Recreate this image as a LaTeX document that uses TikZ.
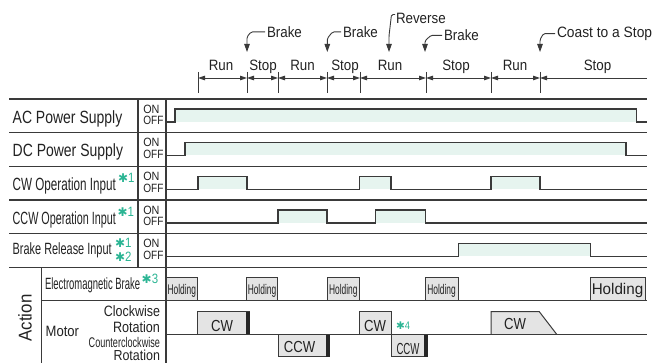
\documentclass[tikz,border=0pt]{standalone}
\usepackage{graphicx}
\usepackage{fontspec}
\setmainfont{Liberation Sans}
\newfontfamily\dejavufont{DejaVu Sans}
\usetikzlibrary{arrows.meta}
\definecolor{sig}{HTML}{E6F4EF}
\definecolor{ln}{HTML}{3A3A3A}
\definecolor{tc}{HTML}{222222}
\definecolor{boxfill}{HTML}{E4E4E4}
\definecolor{markc}{HTML}{2CB594}
\newcommand\tx[3]{\scalebox{#2}[1]{\fontsize{#1}{#1}\selectfont #3}}
\newcommand\mk[3]{{\color{markc}{\dejavufont\fontsize{#1}{#1}\selectfont ✱}\scalebox{0.85}[1]{\fontsize{#2}{#2}\selectfont #3}}}
\begin{document}
\begin{tikzpicture}[x=1pt,y=-1pt,
  txt/.style={inner sep=0pt,outer sep=0pt,text=tc},
  grid/.style={draw=ln,line width=1.1pt},
  sigl/.style={draw=ln,line width=1.1pt},
  tick/.style={draw=ln,line width=0.9pt},
  dim/.style={draw=ln,line width=0.9pt,{Triangle[length=7pt,width=4.5pt]}-{Triangle[length=7pt,width=4.5pt]}},
  dimr/.style={draw=ln,line width=0.9pt,{Triangle[length=7pt,width=4.5pt]}-},
  callout/.style={draw=ln,line width=0.9pt,rounded corners=1.5pt,-{Triangle[length=8pt,width=5.5pt]}},
  holdbox/.style={draw=ln,line width=1pt,fill=boxfill},
  bar/.style={fill=black!85}
]
\useasboundingbox (0,0) rectangle (653,363);

% ---------------- header ----------------
\foreach \n/\x in {1/198,2/247,3/278,4/327,5/360,6/426,7/491,8/540}{
  \coordinate (t\n) at (\x,78);
  \draw[tick] (\x,72) -- (\x,93);
}
\coordinate (tend) at (647,78);
\draw[dim] (t1) -- (t2);
\draw[dim] (t2) -- (t3);
\draw[dim] (t3) -- (t4);
\draw[dim] (t4) -- (t5);
\draw[dim] (t5) -- (t6);
\draw[dim] (t6) -- (t7);
\draw[dim] (t7) -- (t8);
\draw[dimr] (t8) -- (tend);

\node[txt,anchor=base] (h1) at (221,70.7) {\tx{15}{0.89}{Run}};
\node[txt,anchor=base] (h2) at (263,70.7) {\tx{15}{0.89}{Stop}};
\node[txt,anchor=base] (h3) at (302.5,70.7) {\tx{15}{0.89}{Run}};
\node[txt,anchor=base] (h4) at (345,70.7) {\tx{15}{0.89}{Stop}};
\node[txt,anchor=base] (h5) at (390,70.7) {\tx{15}{0.89}{Run}};
\node[txt,anchor=base] (h6) at (456,70.7) {\tx{15}{0.89}{Stop}};
\node[txt,anchor=base] (h7) at (515,70.7) {\tx{15}{0.89}{Run}};
\node[txt,anchor=base] (h8) at (597.5,70.7) {\tx{15}{0.89}{Stop}};

% callouts
\coordinate (a1) at (247,52);
\coordinate (a2) at (327.3,52);
\coordinate (a3) at (389,52);
\coordinate (a4) at (425,52);
\coordinate (a5) at (540,52);
\node[txt,anchor=base west] (b1) at (267,37.3) {\tx{15}{0.89}{Brake}};
\node[txt,anchor=base west] (b2) at (343,37.3) {\tx{15}{0.89}{Brake}};
\node[txt,anchor=base west] (rv) at (396,23.3) {\tx{15}{0.89}{Reverse}};
\node[txt,anchor=base west] (b3) at (444,40.7) {\tx{15}{0.89}{Brake}};
\node[txt,anchor=base west] (cs) at (557,37.3) {\tx{15}{0.92}{Coast to a Stop}};
\draw[callout] ([xshift=-2pt]b1.west) -- ++(-14,0) -- ++(-4,5) -- (a1);
\draw[callout] ([xshift=-2pt]b2.west) -- ++(-8.5,0) -- ++(-5.2,6.5) -- (a2);
\draw[callout] ([shift={(-1pt,-1.5pt)}]rv.north west) -- ++(-3.5,0) -- (389,36) -- (a3);
\draw[callout] ([xshift=-2pt]b3.west) -- ++(-11,0) -- ++(-6,5.5) -- (a4);
\draw[callout] ([xshift=-2pt]cs.west) -- ++(-11.5,0) -- ++(-3.5,6) -- (a5);

% ---------------- signals ----------------
% AC
\fill[sig] (175,109) rectangle (636.7,122);
\draw[sigl] (166,122) -- (175,122) -- (175,109) -- (636.7,109) -- (636.7,122) -- (647,122);
% DC
\fill[sig] (185,142.5) rectangle (626,155.5);
\draw[sigl] (166,155.5) -- (185,155.5) -- (185,142.5) -- (626,142.5) -- (626,155.5) -- (647,155.5);
% CW input
\fill[sig] (198,176.5) rectangle (247,189.5);
\fill[sig] (359.3,176.5) rectangle (391,189.5);
\fill[sig] (491,176.5) rectangle (540,189.5);
\draw[sigl] (166,189.5) -| (198,176.5) -| (247,189.5) -| (359.3,176.5) -| (391,189.5) -| (491,176.5) -| (540,189.5) -- (647,189.5);
% CCW input
\fill[sig] (278,210) rectangle (327,223);
\fill[sig] (375.7,210) rectangle (425.7,223);
\draw[sigl] (166,223) -| (278,210) -| (327,223) -| (375.7,210) -| (425.7,223) -- (647,223);
% Brake release
\fill[sig] (458.3,243.5) rectangle (590.7,256.5);
\draw[sigl] (166,256.5) -| (458.3,243.5) -| (590.7,256.5) -- (647,256.5);

% ---------------- holding boxes ----------------
\draw[holdbox] (166,277.7) rectangle (197.7,300.7);
\draw[holdbox] (246.7,277.7) rectangle (277.3,300.7);
\draw[holdbox] (327.3,277.7) rectangle (359.3,300.7);
\draw[holdbox] (425,277.7) rectangle (458.3,300.7);
\draw[holdbox] (590,277.7) rectangle (645,300.7);
\node[txt,anchor=base] (hd1) at (181.8,294.3) {\tx{14}{0.6}{Holding}};
\node[txt,anchor=base] (hd2) at (262,294.3) {\tx{14}{0.6}{Holding}};
\node[txt,anchor=base] (hd3) at (343.3,294.3) {\tx{14}{0.6}{Holding}};
\node[txt,anchor=base] (hd4) at (441.6,294.3) {\tx{14}{0.6}{Holding}};
\node[txt,anchor=base] (hd5) at (617.5,294.3) {\tx{15.5}{0.98}{Holding}};

% ---------------- motor boxes ----------------
\draw[holdbox] (197.7,311.7) rectangle (249.3,334.3);
\fill[bar] (246,311.7) rectangle (249.8,334.3);
\draw[holdbox] (278.3,334.3) rectangle (329.5,356.7);
\fill[bar] (326,334.3) rectangle (330,356.7);
\draw[holdbox] (359.3,311.7) rectangle (391.3,334.3);
\draw[holdbox] (391.3,334.3) rectangle (427.3,356.7);
\fill[bar] (424,334.3) rectangle (427.8,356.7);
\draw[holdbox] (491,334.3) -- (491,311.7) -- (539.3,311.7) -- (556.7,334.3);
\node[txt,anchor=base] (m1) at (222,331) {\tx{16}{0.82}{CW}};
\node[txt,anchor=base] (m2) at (299.5,352.7) {\tx{16}{0.82}{CCW}};
\node[txt,anchor=base] (m3) at (375,331) {\tx{16}{0.82}{CW}};
\node[txt,anchor=base] (m4) at (408,354.3) {\tx{16}{0.6}{CCW}};
\node[txt,anchor=base] (m5) at (515,329.5) {\tx{16}{0.82}{CW}};
\node[txt,anchor=base west] (s4) at (396,329) {\mk{10.5}{11}{4}};

% ---------------- grid ----------------
\foreach \y in {99,132.5,166.5,200,233.5,267.5}{\draw[grid] (9,\y) -- (647,\y);}
\draw[grid] (41.7,300.7) -- (647,300.7);
\draw[grid] (166,334.3) -- (647,334.3);
\draw[grid] (138,99) -- (138,267.5);
\draw[grid] (166,99) -- (166,363);
\draw[grid] (41.7,267.5) -- (41.7,363);

% ---------------- labels ----------------
\node[txt,anchor=base west] (l1) at (12.7,123.3) {\tx{17.7}{0.79}{AC Power Supply}};
\node[txt,anchor=base west] (l2) at (12.7,156.7) {\tx{17.7}{0.79}{DC Power Supply}};
\node[txt,anchor=base west] (l3) at (12.7,191) {\tx{17.7}{0.66}{CW Operation Input}};
\node[txt,anchor=base west] (l4) at (12.7,225) {\tx{17.7}{0.61}{CCW Operation Input}};
\node[txt,anchor=base west] (l5) at (12.7,255) {\tx{16.3}{0.67}{Brake Release Input}};
\node[txt,anchor=base west] (s1) at (118,182.5) {\mk{12}{13.5}{1}};
\node[txt,anchor=base west] (s2) at (117.5,216.8) {\mk{12}{13.5}{1}};
\node[txt,anchor=base west] (s3) at (115,247.5) {\mk{12}{13.5}{1}};
\node[txt,anchor=base west] (s5) at (115,262) {\mk{12}{13.5}{2}};

\foreach \t [count=\i] in {99,132.5,166.5,200,233.5}{
  \node[txt,anchor=base west] (on\i) at (143.3,\t+14.3) {\tx{12}{0.9}{ON}};
  \node[txt,anchor=base west] (off\i) at (143.3,\t+26) {\tx{12}{0.84}{OFF}};
}

\node[txt,anchor=center,rotate=90] (act) at (25,318) {\tx{18.5}{0.91}{Action}};
\node[txt,anchor=base west] (eb) at (45,290) {\tx{16.3}{0.58}{Electromagnetic Brake}};
\node[txt,anchor=base west] (s6) at (141.7,283.5) {\mk{12}{13.5}{3}};
\node[txt,anchor=base west] (mot) at (45.7,336.7) {\tx{15}{0.87}{Motor}};
\node[txt,anchor=base east] (cw1) at (160,316.7) {\tx{15}{0.83}{Clockwise}};
\node[txt,anchor=base east] (cw2) at (160,332.7) {\tx{15}{0.84}{Rotation}};
\node[txt,anchor=base east] (ccw1) at (160,347.2) {\tx{14}{0.65}{Counterclockwise}};
\node[txt,anchor=base east] (ccw2) at (160,360.3) {\tx{14.5}{0.86}{Rotation}};
\end{tikzpicture}
\end{document}
